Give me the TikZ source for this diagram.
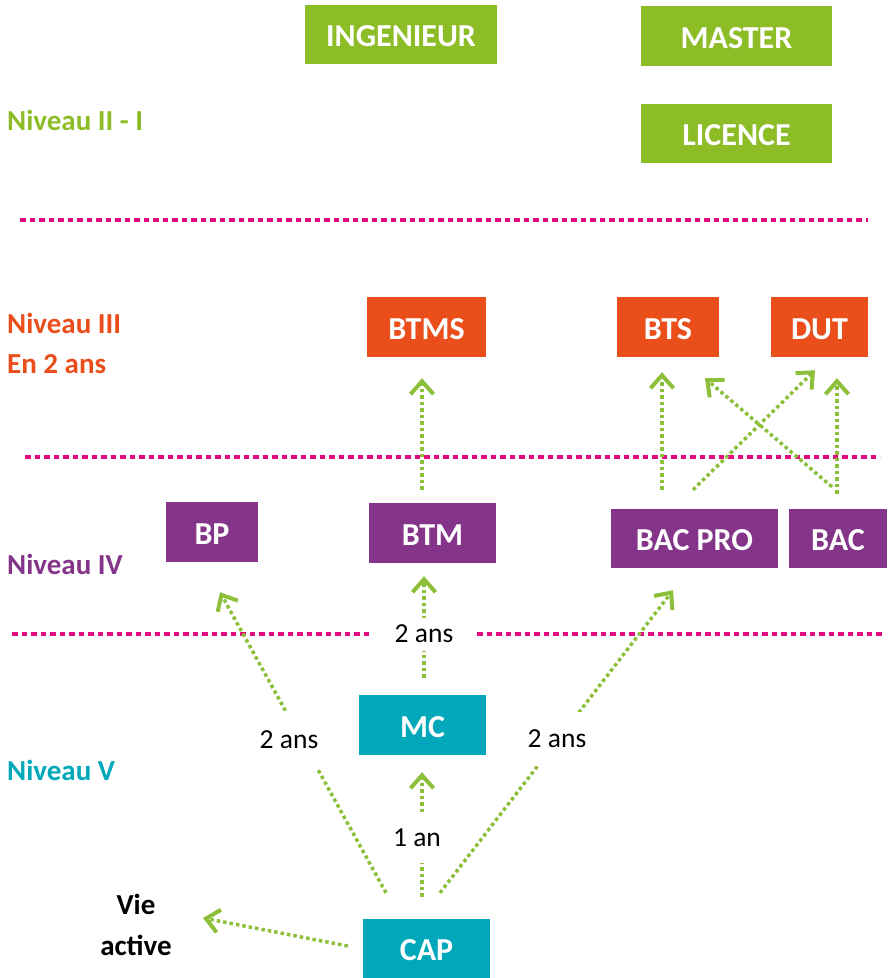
\documentclass[tikz,border=0pt]{standalone}
\usepackage{fontspec}
\setmainfont{Carlito}
\usetikzlibrary{arrows.meta,calc}
\definecolor{cgreen}{HTML}{8CBD27}
\definecolor{agreen}{HTML}{8DC03A}
\definecolor{corange}{HTML}{E94E1B}
\definecolor{cpurple}{HTML}{843589}
\definecolor{cteal}{HTML}{00A8B9}
\definecolor{cpink}{HTML}{E0097E}
\begin{document}
\begin{tikzpicture}[x=1pt,y=-1pt,
  box/.style={fill=#1, text=white, font=\fontsize{32}{36}\selectfont\bfseries, inner sep=0pt, anchor=center, text height=24pt, text depth=0pt},
  lvl/.style={text=#1, font=\fontsize{29}{33}\selectfont\bfseries, inner sep=0pt, anchor=base west},
  arr/.style={draw=agreen, line width=3.5pt, dash pattern=on 3.5pt off 3pt, -{Straight Barb[length=13pt,width=23pt,line width=4pt]}},
  pinkline/.style={draw=cpink, line width=4pt, dash pattern=on 5.5pt off 4pt},
  lab/.style={fill=white, font=\fontsize{27.5}{31}\selectfont, inner sep=0pt, anchor=center}]
\useasboundingbox (0,0) rectangle (887,978);
% separator lines
\draw[pinkline] (20,220) -- (868,220);
\draw[pinkline] (25,457) -- (880,457);
\draw[pinkline] (12,634) -- (370,634);
\draw[pinkline] (477,634) -- (883,634);
% level labels
\node[lvl=cgreen] (n1) at (7,130) {Niveau II - I};
\node[lvl=corange] (n3) at (7,333) {Niveau III};
\node[lvl=corange] (n3b) at (7,373) {En 2 ans};
\node[lvl=cpurple] (n4) at (7,574) {Niveau IV};
\node[lvl=cteal] (n5) at (7,780) {Niveau V};
% boxes
\node[box=cgreen, minimum width=192pt, minimum height=59pt] (ing) at (401,34.5) {INGENIEUR};
\node[box=cgreen, minimum width=191pt, minimum height=60pt] (mas) at (736.5,36) {MASTER};
\node[box=cgreen, minimum width=191pt, minimum height=59pt] (lic) at (736.5,133.5) {LICENCE};
\node[box=corange, minimum width=119pt, minimum height=60pt] (btms) at (426.5,327) {BTMS};
\node[box=corange, minimum width=102pt, minimum height=60pt] (bts) at (668,327) {BTS};
\node[box=corange, minimum width=97pt, minimum height=60pt] (dut) at (819.5,327) {DUT};
\node[box=cpurple, minimum width=92pt, minimum height=60pt] (bp) at (212,532) {BP};
\node[box=cpurple, minimum width=127pt, minimum height=60pt] (btm) at (432.5,533) {BTM};
\node[box=cpurple, minimum width=167pt, minimum height=59pt] (bacpro) at (694.5,538.5) {BAC PRO};
\node[box=cpurple, minimum width=98pt, minimum height=59pt] (bac) at (838,538.5) {BAC};
\node[box=cteal, minimum width=127pt, minimum height=60pt] (mc) at (422.5,725) {MC};
\node[box=cteal, minimum width=127pt, minimum height=59pt] (cap) at (426.5,948.5) {CAP};
\node[font=\fontsize{29}{41}\selectfont\bfseries, align=center, inner sep=0pt] (vie) at (136,925) {Vie\\active};
% arrows
\draw[arr] ($(btm.north)+(-10.5,-13)$) -- ($(btms.south)+(-4.5,21)$);
\draw[arr] ($(bacpro.north)+(-32.5,-19)$) -- ($(bts.south)+(-6,15)$);
\draw[arr] ($(bacpro.north)+(-1.5,-19)$) -- ($(dut.south)+(-4.5,13)$);
\draw[arr] ($(bac.north)+(-6,-22)$) -- ($(bts.south)+(37,21)$);
\draw[arr] ($(bac.north)+(-1,-15)$) -- ($(dut.south)+(17.5,21)$);
\draw[arr] ($(mc.north)+(1.5,-17)$) -- ($(btm.south)+(-8.5,13)$);
\draw[arr] ($(cap.north)+(-40.5,-26)$) -- ($(bp.south)+(8,30)$);
\draw[arr] ($(cap.north)+(13.5,-26)$) -- ($(bacpro.south)+(-21.5,22)$);
\draw[arr] ($(cap.north)+(-4.5,-22)$) -- ($(mc.south)+(-0.5,17)$);
\draw[arr] ($(cap.west)+(-15,-2.5)$) -- ($(vie)+(67,-7)$);
% labels on arrows
\node[lab, minimum width=60pt, minimum height=33pt] (l1) at (424,634) {2 ans};
\node[lab, minimum width=70pt, minimum height=58pt] (l2) at (289,740) {2 ans};
\node[lab, minimum width=70pt, minimum height=54pt] (l3) at (557,739) {2 ans};
\node[lab, minimum width=50pt, minimum height=50pt] (l4) at (417,838) {1 an};
\end{tikzpicture}
\end{document}
